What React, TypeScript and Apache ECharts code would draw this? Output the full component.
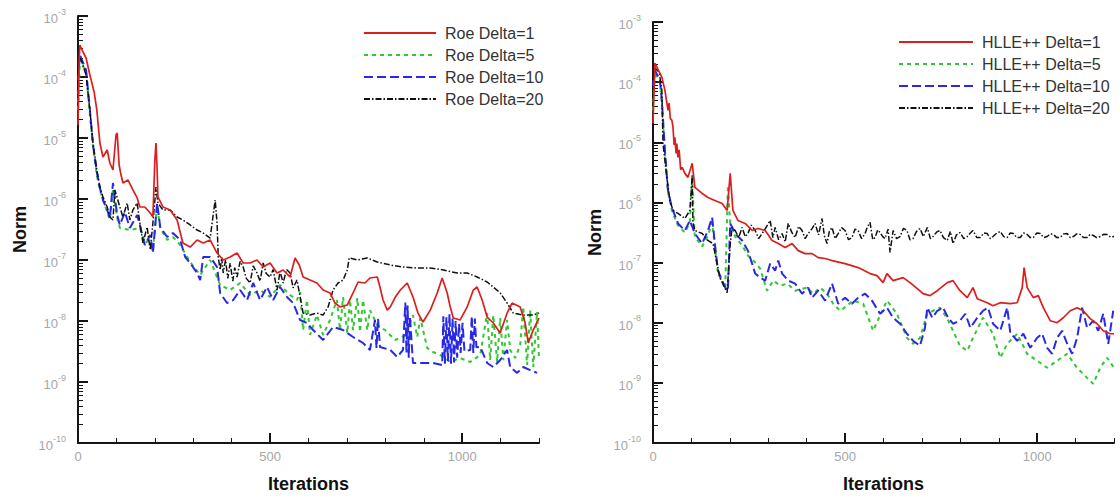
import { useEffect, useRef } from "react";
import * as echarts from "echarts";

// ---------- axis ticks / labels ----------
const decadeTicks = [1e-10, 1e-9, 1e-8, 1e-7, 1e-6, 1e-5, 1e-4, 1e-3];
const minorDecadeTicks = decadeTicks
  .slice(0, -1)
  .flatMap((d) => [2, 3, 4, 5, 6, 7, 8, 9].map((k) => k * d));
const iterationTicks = [0, 500, 1000];
const iterationMinorTicks = [0, 100, 200, 300, 400, 500, 600, 700, 800, 900, 1000, 1100, 1200];

const roeNames = ["Roe Delta=1", "Roe Delta=5", "Roe Delta=10", "Roe Delta=20"];
const hlleNames = ["HLLE++ Delta=1", "HLLE++ Delta=5", "HLLE++ Delta=10", "HLLE++ Delta=20"];

// ---------- data: [iteration, norm] ----------
const roeDelta1: [number, number][] = [
  [0, 1.63e-5], [3, 1.9e-4], [5, 3.35e-4], [13, 2.57e-4], [21, 2.05e-4], [31, 1.08e-4], [42, 5.68e-5],
  [49, 2.88e-5], [57, 8.28e-6], [65, 4.88e-6], [76, 6.35e-6], [83, 3.89e-6], [91, 2.99e-6], [99, 1.12e-5],
  [102, 1.21e-5], [107, 3.61e-6], [112, 2.47e-6], [117, 1.83e-6], [130, 2.05e-6], [143, 1.41e-6],
  [154, 1.04e-6], [161, 7.4e-7], [174, 7.4e-7], [188, 5.89e-7], [195, 5.07e-7], [200, 4.36e-6],
  [203, 8.28e-6], [206, 2.99e-6], [208, 1.08e-6], [221, 7.4e-7], [240, 6.61e-7], [258, 4.53e-7],
  [273, 1.9e-7], [292, 1.63e-7], [310, 2.13e-7], [326, 1.9e-7], [344, 2.13e-7], [362, 1.3e-7],
  [378, 1.0e-7], [396, 1.12e-7], [414, 1.3e-7], [430, 8.93e-8], [448, 8.93e-8], [466, 1.0e-7],
  [482, 7.68e-8], [500, 8.93e-8], [518, 6.12e-8], [534, 6.86e-8], [552, 5.26e-8], [565, 1.08e-7],
  [576, 8.28e-8], [586, 5.26e-8], [604, 4.7e-8], [622, 4.2e-8], [638, 3.22e-8], [656, 2.88e-8],
  [669, 1.97e-8], [682, 1.7e-8], [701, 1.83e-8], [716, 2.88e-8], [729, 4.36e-8], [747, 4.2e-8],
  [760, 5.07e-8], [779, 5.26e-8], [786, 3.61e-8], [794, 2.21e-8], [805, 1.51e-8], [813, 1.7e-8],
  [826, 2.47e-8], [839, 3.22e-8], [857, 4.2e-8], [872, 2.47e-8], [885, 1.35e-8], [898, 9.63e-9],
  [917, 1.51e-8], [935, 2.88e-8], [948, 5.07e-8], [961, 2.88e-8], [969, 1.7e-8], [977, 1.12e-8],
  [995, 1.04e-8], [1013, 1.7e-8], [1029, 3.22e-8], [1039, 3.61e-8], [1052, 2.21e-8], [1065, 1.16e-8],
  [1081, 9.27e-9], [1099, 6.35e-9], [1117, 1.35e-8], [1130, 1.97e-8], [1151, 1.7e-8], [1164, 9.27e-9],
  [1172, 4.36e-9], [1185, 7.11e-9], [1200, 1.12e-8],
];

const roeDelta5: [number, number][] = [
  [0, 2.88e-5], [5, 1.9e-4], [21, 1.21e-4], [31, 2.38e-5], [39, 7.11e-6], [49, 2.47e-6], [57, 1.41e-6],
  [65, 9.63e-7], [76, 6.12e-7], [83, 4.53e-7], [91, 1.41e-6], [102, 4.88e-7], [109, 3.35e-7],
  [135, 3.1e-7], [161, 3.35e-7], [174, 1.9e-7], [188, 2.13e-7], [195, 1.46e-7], [206, 7.97e-7],
  [214, 3.35e-7], [232, 2.13e-7], [247, 2.38e-7], [266, 1.76e-7], [292, 9.27e-8], [318, 5.68e-8],
  [344, 1.0e-7], [370, 3.89e-8], [396, 3.22e-8], [422, 4.2e-8], [448, 2.67e-8], [474, 3.22e-8],
  [500, 2.47e-8], [526, 3.89e-8], [552, 2.67e-8], [570, 2.21e-8], [578, 2.99e-8], [586, 7.11e-9],
  [596, 2.21e-8], [604, 5.89e-9], [622, 1.25e-8], [638, 5.89e-9], [656, 1.04e-8], [674, 2.21e-8],
  [682, 7.11e-9], [690, 2.47e-8], [701, 6.35e-9], [708, 2.21e-8], [716, 7.11e-9], [727, 2.38e-8],
  [734, 6.61e-9], [742, 2.21e-8], [753, 7.11e-9], [760, 1.51e-8], [779, 8.59e-9], [799, 7.11e-9],
  [826, 4.88e-9], [852, 5.89e-9], [872, 1.25e-8], [883, 5.47e-9], [891, 1.12e-8], [909, 3.61e-9],
  [924, 3.1e-9], [943, 2.77e-9], [969, 2.13e-9], [995, 2.47e-9], [1021, 2.13e-9], [1047, 2.77e-9],
  [1065, 1.35e-8], [1073, 2.29e-9], [1081, 1.25e-8], [1091, 2.13e-9], [1099, 1.12e-8], [1107, 2.29e-9],
  [1117, 1.04e-8], [1125, 3.35e-9], [1138, 2.47e-9], [1151, 4.04e-9], [1159, 1.7e-8], [1169, 1.9e-9],
  [1177, 1.51e-8], [1185, 1.76e-9], [1195, 1.41e-8], [1200, 2.29e-9],
];

const roeDelta10: [number, number][] = [
  [0, 8.93e-5], [5, 2.29e-4], [21, 1.3e-4], [31, 2.88e-5], [39, 7.68e-6], [49, 2.77e-6], [57, 1.51e-6],
  [65, 9.63e-7], [76, 6.61e-7], [83, 4.88e-7], [91, 1.83e-6], [102, 5.47e-7], [109, 3.75e-7],
  [122, 6.12e-7], [135, 3.35e-7], [154, 5.47e-7], [161, 3.75e-7], [174, 1.76e-7], [188, 2.57e-7],
  [195, 1.3e-7], [206, 8.59e-7], [214, 3.47e-7], [232, 2.38e-7], [247, 2.77e-7], [266, 2.13e-7],
  [279, 1.12e-7], [292, 8.93e-8], [310, 6.12e-8], [318, 4.7e-8], [326, 1.12e-7], [344, 1.12e-7],
  [362, 7.68e-8], [370, 2.88e-8], [388, 1.97e-8], [404, 2.21e-8], [422, 3.22e-8], [440, 2.21e-8],
  [456, 4.2e-8], [474, 2.21e-8], [492, 3.61e-8], [508, 2.21e-8], [526, 3.61e-8], [544, 2.47e-8],
  [560, 1.97e-8], [578, 1.04e-8], [596, 9.27e-9], [612, 7.11e-9], [638, 4.88e-9], [664, 7.97e-9],
  [690, 7.11e-9], [716, 5.47e-9], [742, 4.36e-9], [760, 3.35e-9], [773, 1.04e-8], [777, 3.6e-9],
  [781, 1.1e-8], [786, 3.75e-9], [813, 3.35e-9], [831, 2.57e-9], [846, 3.35e-9], [852, 2.0e-8],
  [855, 3.0e-9], [858, 1.8e-8], [861, 2.5e-9], [864, 1.2e-8], [872, 2.05e-9], [898, 2.05e-9],
  [924, 2.05e-9], [948, 1.9e-9], [951, 1.2e-8], [955, 2.0e-9], [959, 1.16e-8], [963, 2.2e-9],
  [967, 1.3e-8], [971, 2.0e-9], [975, 1.1e-8], [979, 2.1e-9], [983, 1.0e-8], [987, 2.5e-9],
  [992, 9.0e-9], [996, 3.0e-9], [1001, 9.3e-9], [1006, 3.2e-9], [1021, 3.35e-9], [1025, 1.2e-8],
  [1029, 3.0e-9], [1033, 1.1e-8], [1037, 3.7e-9], [1047, 3.75e-9], [1065, 2.05e-9], [1081, 1.76e-9],
  [1099, 2.29e-9], [1117, 3.35e-9], [1125, 1.76e-9], [1143, 1.41e-9], [1159, 1.76e-9], [1177, 1.57e-9],
  [1195, 1.41e-9],
];

const roeDelta20: [number, number][] = [
  [0, 1.08e-4], [3, 2.29e-4], [10, 1.76e-4], [21, 1.08e-4], [31, 2.88e-5], [39, 8.28e-6], [49, 2.99e-6],
  [57, 1.57e-6], [65, 1.08e-6], [76, 7.4e-7], [83, 5.07e-7], [91, 4.53e-7], [96, 1.41e-6], [109, 7.4e-7],
  [117, 5.07e-7], [128, 8.59e-7], [135, 4.53e-7], [143, 6.61e-7], [154, 8.59e-7], [161, 4.04e-7],
  [169, 1.9e-7], [180, 3.47e-7], [188, 1.46e-7], [195, 4.04e-7], [203, 1.57e-6], [208, 8.59e-7],
  [221, 6.61e-7], [240, 6.61e-7], [258, 5.07e-7], [273, 4.53e-7], [292, 3.75e-7], [310, 3.1e-7],
  [326, 2.77e-7], [344, 2.29e-7], [357, 9.63e-7], [362, 4.04e-7], [365, 1.12e-7], [370, 6.86e-8],
  [374, 1.1e-7], [378, 6.12e-8], [384, 1.0e-7], [390, 5.0e-8], [396, 8.93e-8], [403, 4.5e-8],
  [408, 7.5e-8], [414, 5.26e-8], [422, 9.5e-8], [430, 7.68e-8], [438, 5.0e-8], [448, 4.2e-8],
  [456, 8.0e-8], [466, 6.12e-8], [474, 4.5e-8], [482, 8.93e-8], [490, 6.0e-8], [500, 5.26e-8],
  [508, 7.0e-8], [518, 3.22e-8], [526, 6.5e-8], [534, 4.2e-8], [543, 7.0e-8], [552, 6.12e-8],
  [560, 3.5e-8], [570, 4.7e-8], [586, 1.35e-8], [604, 1.25e-8], [622, 1.35e-8], [638, 1.25e-8],
  [651, 1.7e-8], [664, 3.22e-8], [677, 4.2e-8], [690, 4.7e-8], [701, 6.86e-8], [706, 1.08e-7],
  [727, 1.0e-7], [753, 1.08e-7], [779, 9.27e-8], [813, 8.28e-8], [846, 7.68e-8], [883, 7.4e-8],
  [917, 7.4e-8], [951, 6.86e-8], [987, 6.12e-8], [1013, 6.12e-8], [1039, 5.26e-8], [1065, 4.36e-8],
  [1081, 3.61e-8], [1099, 2.88e-8], [1117, 1.97e-8], [1133, 1.35e-8], [1159, 1.25e-8], [1185, 1.25e-8],
  [1200, 1.35e-8],
];

const hlleDelta1: [number, number][] = [
  [0, 2.07e-5], [5, 2.07e-4], [23, 1.21e-4], [31, 7.36e-5], [39, 3.41e-5], [42, 4.5e-5], [45, 2.5e-5],
  [49, 2.33e-5], [52, 1.8e-5], [55, 9.0e-6], [57, 1.21e-5], [60, 6.5e-6], [62, 9.5e-6], [65, 5.62e-6],
  [68, 7.5e-6], [72, 3.5e-6], [76, 3.83e-6], [83, 3.04e-6], [91, 2.61e-6], [102, 4.47e-6],
  [109, 1.78e-6], [128, 1.41e-6], [143, 1.21e-6], [161, 1.08e-6], [180, 9.62e-7], [193, 7.36e-7],
  [201, 3.04e-6], [208, 7.36e-7], [221, 5.01e-7], [240, 4.47e-7], [258, 3.41e-7], [273, 3.69e-7],
  [292, 3.41e-7], [310, 2.33e-7], [326, 2.07e-7], [344, 1.78e-7], [362, 2.07e-7], [378, 1.58e-7],
  [396, 1.41e-7], [414, 1.41e-7], [430, 1.21e-7], [448, 1.17e-7], [466, 1.08e-7], [500, 9.62e-8],
  [534, 8.25e-8], [565, 6.56e-8], [583, 6.07e-8], [599, 4.64e-8], [609, 6.56e-8], [625, 5.01e-8],
  [651, 5.62e-8], [669, 4.64e-8], [688, 3.69e-8], [703, 3.04e-8], [721, 2.82e-8], [740, 3.41e-8],
  [766, 4.64e-8], [781, 5.01e-8], [799, 3.41e-8], [818, 2.61e-8], [833, 3.83e-8], [844, 2.51e-8],
  [870, 2.15e-8], [885, 1.92e-8], [904, 2.15e-8], [930, 2.07e-8], [948, 2.15e-8], [961, 3.83e-8],
  [966, 8.25e-8], [974, 3.83e-8], [990, 2.61e-8], [1003, 2.82e-8], [1016, 1.78e-8], [1034, 1.08e-8],
  [1052, 1.0e-8], [1068, 1.21e-8], [1086, 1.58e-8], [1104, 1.78e-8], [1120, 1.58e-8], [1138, 1.17e-8],
  [1156, 9.62e-9], [1172, 7.36e-9], [1190, 6.56e-9], [1200, 6.56e-9],
];

const hlleDelta5: [number, number][] = [
  [0, 3.41e-5], [5, 1.47e-4], [18, 1.0e-4], [23, 4.64e-5], [31, 6.81e-6], [39, 1.47e-6], [49, 7.36e-7],
  [65, 4.14e-7], [83, 3.16e-7], [96, 4.64e-7], [102, 2.82e-6], [107, 4.14e-7], [109, 2.71e-7],
  [128, 1.85e-7], [143, 2.82e-7], [154, 4.64e-7], [161, 1.85e-7], [169, 6.81e-8], [188, 3.69e-8],
  [195, 1.92e-6], [201, 4.14e-7], [214, 2.71e-7], [232, 1.92e-7], [247, 1.31e-7], [266, 1.0e-7],
  [279, 7.94e-8], [297, 3.41e-8], [313, 5.01e-8], [331, 4.14e-8], [349, 4.47e-8], [370, 3.41e-8],
  [401, 3.83e-8], [417, 3.04e-8], [435, 3.83e-8], [453, 3.04e-8], [469, 2.07e-8], [487, 1.58e-8],
  [505, 1.92e-8], [521, 2.33e-8], [547, 2.07e-8], [573, 7.36e-9], [591, 1.31e-8], [609, 2.33e-8],
  [635, 1.41e-8], [661, 5.62e-9], [677, 4.47e-9], [695, 5.62e-9], [714, 1.41e-8], [729, 1.58e-8],
  [747, 1.78e-8], [766, 1.17e-8], [781, 7.36e-9], [799, 4.14e-9], [818, 3.41e-9], [833, 5.62e-9],
  [859, 1.21e-8], [885, 6.56e-9], [904, 2.61e-9], [922, 4.47e-9], [948, 6.56e-9], [974, 3.04e-9],
  [1000, 2.33e-9], [1026, 1.78e-9], [1052, 2.33e-9], [1078, 3.04e-9], [1104, 1.78e-9], [1130, 1.21e-9],
  [1146, 9.62e-10], [1164, 1.78e-9], [1182, 2.61e-9], [1200, 1.78e-9],
];

const hlleDelta10: [number, number][] = [
  [0, 8.91e-5], [5, 1.58e-4], [18, 1.08e-4], [23, 5.01e-5], [31, 7.36e-6], [39, 1.58e-6], [49, 8.25e-7],
  [65, 4.47e-7], [83, 3.41e-7], [96, 5.01e-7], [109, 3.04e-7], [128, 2.07e-7], [143, 3.41e-7],
  [154, 5.62e-7], [161, 2.07e-7], [169, 7.36e-8], [188, 3.83e-8], [195, 3.41e-8], [201, 4.47e-7],
  [214, 3.04e-7], [232, 2.33e-7], [247, 1.58e-7], [258, 9.62e-8], [266, 6.56e-8], [279, 5.62e-8],
  [292, 5.01e-8], [305, 9.62e-8], [318, 7.36e-8], [326, 1.08e-7], [336, 6.56e-8], [352, 5.01e-8],
  [370, 4.47e-8], [388, 3.04e-8], [404, 3.83e-8], [414, 2.61e-8], [430, 3.41e-8], [448, 2.33e-8],
  [466, 4.47e-8], [482, 2.07e-8], [500, 2.61e-8], [518, 2.07e-8], [534, 2.61e-8], [552, 3.04e-8],
  [570, 2.33e-8], [591, 1.41e-8], [609, 1.78e-8], [625, 1.21e-8], [643, 9.62e-9], [661, 6.56e-9],
  [677, 5.01e-9], [695, 4.14e-9], [708, 8.25e-9], [714, 1.78e-8], [727, 1.21e-8], [740, 1.58e-8],
  [755, 1.78e-8], [768, 1.21e-8], [781, 9.62e-9], [799, 1.08e-8], [813, 1.41e-8], [826, 8.25e-9],
  [844, 1.21e-8], [859, 1.58e-8], [872, 1.78e-8], [885, 9.62e-9], [904, 7.36e-9], [922, 1.78e-8],
  [930, 6.81e-9], [948, 5.01e-9], [964, 6.56e-9], [982, 3.83e-9], [1000, 5.62e-9], [1013, 6.56e-9],
  [1026, 3.83e-9], [1039, 3.04e-9], [1052, 5.62e-9], [1065, 7.36e-9], [1078, 4.47e-9], [1091, 3.04e-9],
  [1104, 5.62e-9], [1117, 1.78e-8], [1130, 8.25e-9], [1146, 1.08e-8], [1159, 7.36e-9], [1172, 1.41e-8],
  [1185, 4.47e-9], [1198, 1.58e-8],
];

const hlleDelta20: [number, number][] = [
  [0, 1.08e-4], [5, 1.71e-4], [16, 1.47e-4], [23, 7.36e-5], [26, 9.62e-6], [36, 2.61e-6], [44, 1.08e-6],
  [52, 7.36e-7], [65, 6.56e-7], [83, 5.41e-7], [96, 7.36e-7], [102, 2.82e-6], [104, 4.64e-7],
  [109, 3.41e-7], [128, 3.04e-7], [143, 2.33e-7], [156, 2.07e-7], [167, 9.62e-8], [174, 5.62e-8],
  [182, 4.47e-8], [193, 3.16e-8], [201, 2.07e-7], [206, 3.83e-7], [214, 3.41e-7], [223, 2.6e-7],
  [232, 3.83e-7], [240, 2.7e-7], [247, 3.04e-7], [256, 4.2e-7], [266, 3.41e-7], [275, 2.5e-7],
  [284, 3.04e-7], [295, 3.9e-7], [305, 5.01e-7], [312, 2.6e-7], [318, 3.83e-7], [327, 2.4e-7],
  [336, 3.04e-7], [344, 2.2e-7], [352, 4.47e-7], [361, 3.2e-7], [370, 2.61e-7], [379, 4.0e-7],
  [388, 3.41e-7], [396, 2.5e-7], [404, 3.04e-7], [413, 3.6e-7], [422, 4.47e-7], [431, 2.9e-7],
  [440, 5.41e-7], [446, 2.8e-7], [453, 2.07e-7], [459, 3.3e-7], [466, 3.83e-7], [474, 2.5e-7],
  [482, 3.04e-7], [491, 3.8e-7], [500, 3.41e-7], [509, 2.4e-7], [518, 2.61e-7], [526, 3.6e-7],
  [534, 3.41e-7], [543, 2.5e-7], [552, 3.04e-7], [558, 3.9e-7], [565, 4.64e-7], [572, 2.4e-7],
  [578, 2.61e-7], [585, 3.5e-7], [591, 3.16e-7], [598, 2.7e-7], [604, 2.51e-7], [612, 3.6e-7],
  [617, 1.47e-7], [625, 3.41e-7], [634, 2.5e-7], [643, 2.71e-7], [652, 3.7e-7], [661, 3.41e-7],
  [669, 2.4e-7], [677, 2.51e-7], [686, 3.3e-7], [695, 3.69e-7], [704, 2.7e-7], [714, 3.83e-7],
  [722, 2.5e-7], [729, 2.71e-7], [738, 3.2e-7], [747, 3.41e-7], [756, 2.6e-7], [766, 2.33e-7],
  [774, 3.3e-7], [781, 2.07e-7], [790, 2.9e-7], [799, 3.16e-7], [809, 2.5e-7], [818, 2.71e-7],
  [826, 3.1e-7], [833, 3.41e-7], [843, 2.6e-7], [852, 2.61e-7], [861, 3.1e-7], [870, 3.04e-7],
  [878, 2.5e-7], [885, 2.71e-7], [895, 3.1e-7], [904, 3.29e-7], [913, 2.7e-7], [922, 2.61e-7],
  [930, 3.1e-7], [938, 3.04e-7], [947, 2.6e-7], [956, 2.61e-7], [965, 3.1e-7], [974, 2.93e-7],
  [982, 2.6e-7], [990, 2.61e-7], [999, 3.1e-7], [1008, 3.04e-7], [1017, 2.6e-7], [1026, 2.71e-7],
  [1034, 3.0e-7], [1042, 2.93e-7], [1051, 2.6e-7], [1060, 2.61e-7], [1069, 3.0e-7], [1078, 3.04e-7],
  [1086, 2.6e-7], [1094, 2.71e-7], [1103, 3.0e-7], [1112, 2.93e-7], [1121, 2.6e-7], [1130, 2.61e-7],
  [1138, 2.95e-7], [1146, 2.82e-7], [1155, 2.6e-7], [1164, 2.71e-7], [1173, 2.95e-7], [1182, 2.93e-7],
  [1191, 2.65e-7], [1200, 2.71e-7],
];

// ---------- styling ----------
const FONT = "'Liberation Sans', Arial, sans-serif";
const GRAY = "#a6a6a6";
const AXIS = "#151515";
const RED = "#dc1e1e";
const GREEN = "#33c833";
const BLUE = "#2828e6";
const BLACK = "#111111";

const yLabel = (v: number) => `{b|10}{s|${Math.round(Math.log10(v))}}`;

function xAxes(gi: number) {
  return [
    {
      type: "value", gridIndex: gi, min: 0, max: 1200, position: "bottom",
      name: "Iterations", nameLocation: "middle", nameGap: 32,
      nameTextStyle: { fontFamily: FONT, fontSize: 18, fontWeight: "bold", color: "#111" },
      axisLine: { show: true, onZero: false, lineStyle: { color: AXIS, width: 2 } },
      axisTick: { show: true, inside: true, length: 10, customValues: iterationTicks, lineStyle: { color: AXIS, width: 2 } },
      axisLabel: {
        show: true, customValues: iterationTicks, margin: 7, fontFamily: FONT, fontSize: 13, color: GRAY,
        formatter: (v: number) => String(v),
      },
      splitLine: { show: false },
    },
    {
      type: "value", gridIndex: gi, min: 0, max: 1200, position: "bottom",
      axisLine: { show: false },
      axisTick: { show: true, inside: true, length: 5, customValues: iterationMinorTicks, lineStyle: { color: AXIS, width: 1 } },
      axisLabel: { show: false },
      splitLine: { show: false },
    },
  ];
}

function yAxes(gi: number) {
  return [
    {
      type: "log", logBase: 10, gridIndex: gi, min: 1e-10, max: 1e-3, position: "left",
      name: "Norm", nameLocation: "middle", nameGap: 49,
      nameTextStyle: { fontFamily: FONT, fontSize: 18, fontWeight: "bold", color: "#111" },
      axisLine: { show: true, onZero: false, lineStyle: { color: AXIS, width: 2 } },
      axisTick: { show: true, inside: true, length: 10, customValues: decadeTicks, lineStyle: { color: AXIS, width: 2 } },
      axisLabel: {
        show: true, customValues: decadeTicks, margin: 12, formatter: yLabel,
        rich: {
          b: { fontFamily: FONT, fontSize: 13, color: GRAY, lineHeight: 18, verticalAlign: "bottom" },
          s: { fontFamily: FONT, fontSize: 9, color: GRAY, lineHeight: 18, verticalAlign: "top" },
        },
      },
      splitLine: { show: false },
    },
    {
      type: "log", logBase: 10, gridIndex: gi, min: 1e-10, max: 1e-3, position: "left",
      axisLine: { show: false },
      axisTick: { show: true, inside: true, length: 5, customValues: minorDecadeTicks, lineStyle: { color: AXIS, width: 1 } },
      axisLabel: { show: false },
      splitLine: { show: false },
    },
  ];
}

function line(name: string, data: [number, number][], color: string, dash: any, width: number, gi: number, z: number) {
  return {
    type: "line", name, data, xAxisIndex: gi * 2, yAxisIndex: gi * 2,
    symbol: "none", showSymbol: false, z, silent: true,
    lineStyle: { color, width, type: dash },
    itemStyle: { color },
    emphasis: { disabled: true },
  };
}

function legend(names: string[], left: number, top: number, itemWidth: number) {
  return {
    data: names, orient: "vertical", left, top, itemWidth, itemHeight: 14, itemGap: 6,
    selectedMode: false,
    itemStyle: { opacity: 0, borderWidth: 0 },
    textStyle: { fontFamily: FONT, fontSize: 16, color: "#333", padding: [0, 0, 0, 4] },
  };
}

export default function App() {
  const ref = useRef<HTMLDivElement>(null);
  useEffect(() => {
    if (!ref.current) return;
    const chart = echarts.init(ref.current, undefined, { renderer: "svg" });
    const dashShort = [4, 4];
    const dashLong = [9, 4];
    const dashDot = [6, 2, 1.5, 2];
    chart.setOption({
      animation: false,
      backgroundColor: "#ffffff",
      grid: [
        { left: 78, top: 16, width: 461, height: 427 },
        { left: 653, top: 22, width: 461, height: 421 },
      ],
      xAxis: [...xAxes(0), ...xAxes(1)],
      yAxis: [...yAxes(0), ...yAxes(1)],
      legend: [legend(roeNames, 358, 20, 72), legend(hlleNames, 893, 29, 74)],
      series: [
        line(roeNames[1], roeDelta5, GREEN, dashShort, 2, 0, 2),
        line(roeNames[2], roeDelta10, BLUE, dashLong, 2, 0, 3),
        line(roeNames[3], roeDelta20, BLACK, dashDot, 1.5, 0, 4),
        line(roeNames[0], roeDelta1, RED, "solid", 1.7, 0, 5),
        line(hlleNames[1], hlleDelta5, GREEN, dashShort, 2, 1, 2),
        line(hlleNames[2], hlleDelta10, BLUE, dashLong, 2, 1, 3),
        line(hlleNames[3], hlleDelta20, BLACK, dashDot, 1.5, 1, 4),
        line(hlleNames[0], hlleDelta1, RED, "solid", 1.7, 1, 5),
      ],
    });
    return () => chart.dispose();
  }, []);
  return (
    <div
      ref={ref}
      style={{ position: "absolute", left: 0, top: 0, width: 1120, height: 498, background: "#fff" }}
    />
  );
}
